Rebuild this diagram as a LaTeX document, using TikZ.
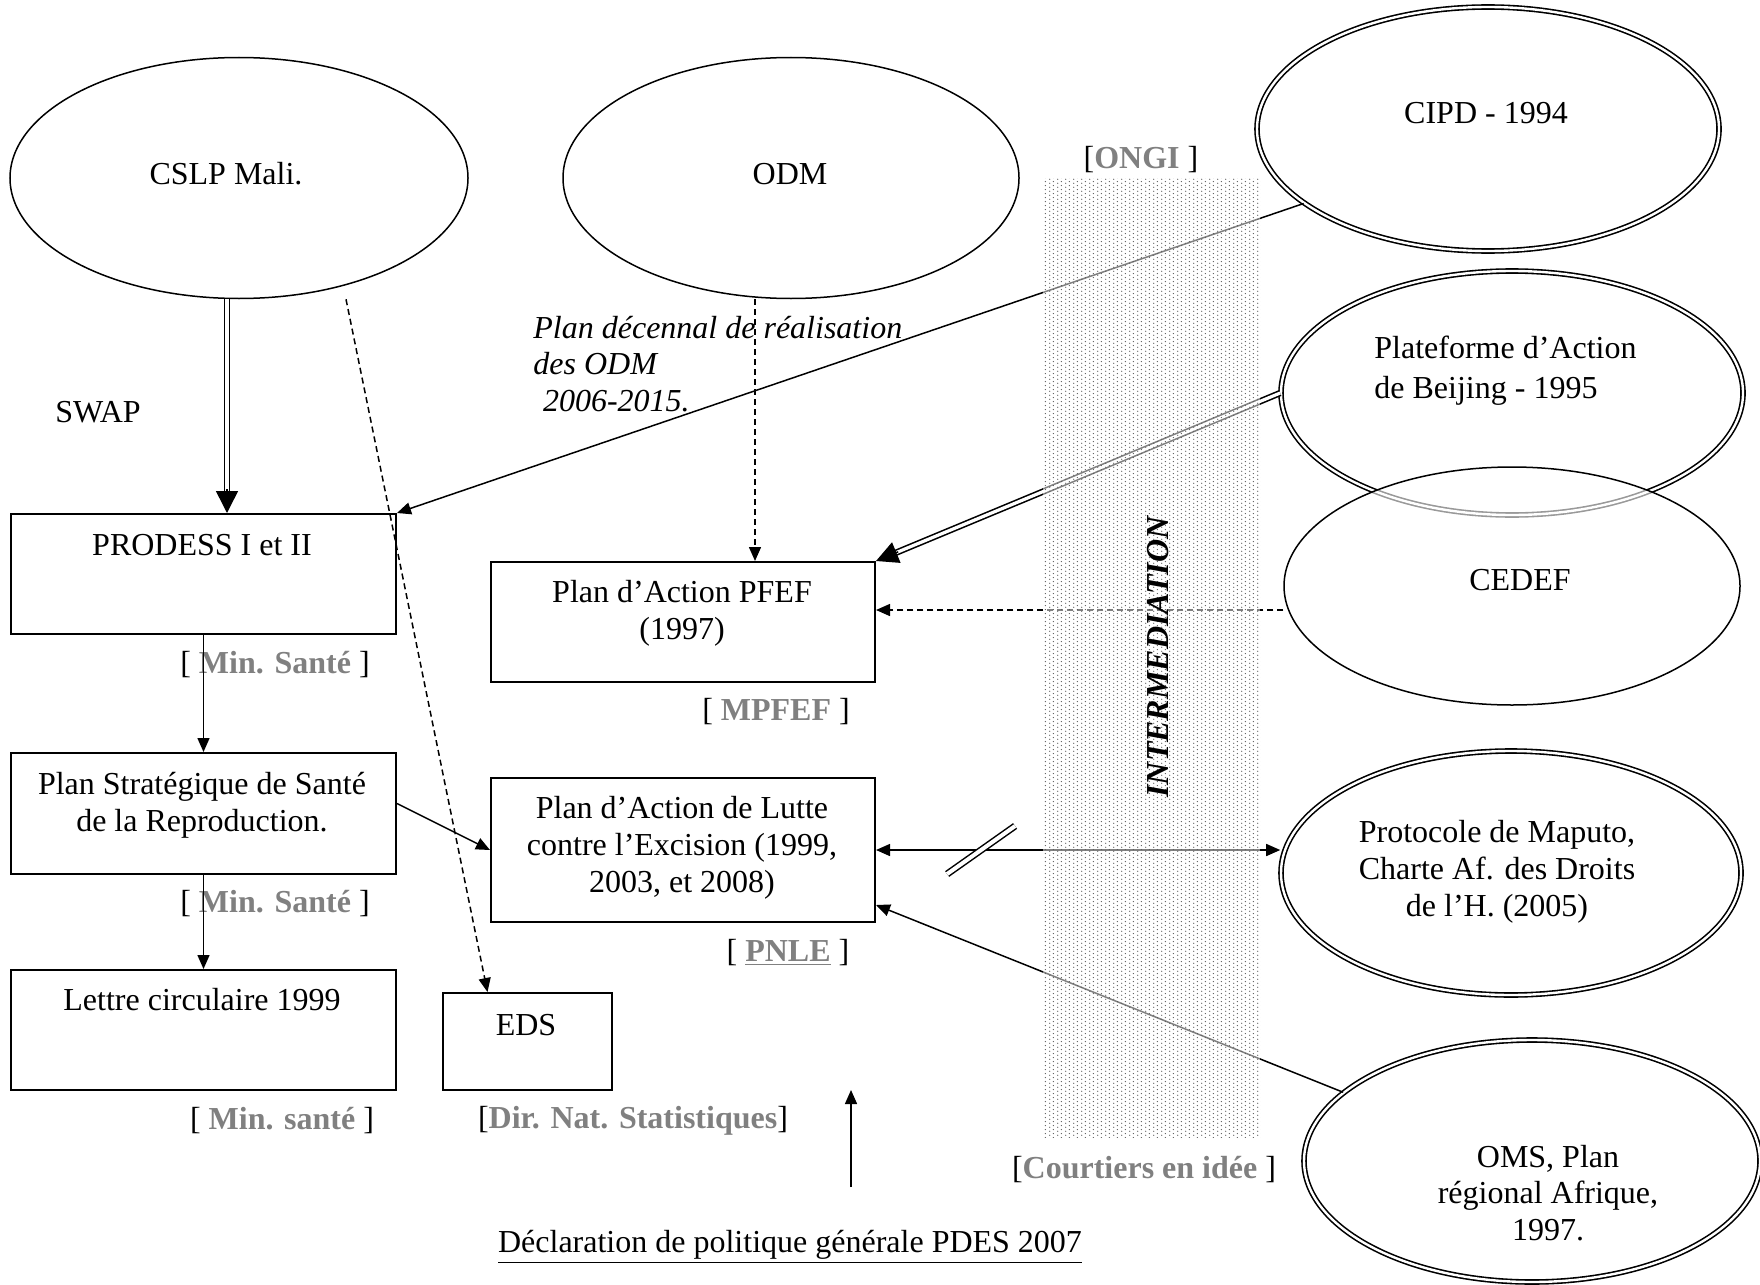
\documentclass[tikz,border=0pt]{standalone}
\usepackage{fontspec}
\setmainfont{Liberation Serif}
\usetikzlibrary{shapes.geometric,arrows.meta,patterns,calc}
\definecolor{orggray}{RGB}{128,128,128}
\newcommand{\org}[1]{\textbf{\color{orggray}#1}}
\pgfdeclarepatternformonly{fine dots}{\pgfpointorigin}{\pgfpoint{4pt}{2pt}}{\pgfpoint{4pt}{2pt}}{%
  \pgfpathcircle{\pgfpoint{1pt}{0.5pt}}{0.38pt}%
  \pgfpathcircle{\pgfpoint{3pt}{1.5pt}}{0.38pt}%
  \pgfusepath{fill}}

\begin{document}
\begin{tikzpicture}[x=0.5pt,y=-0.5pt,
  every node/.style={font=\fontsize{16}{18.4}\selectfont, inner sep=0pt},
  oval/.style={draw, ellipse, line width=0.75pt},
  dbloval/.style={draw, ellipse, double, line width=0.8pt, double distance=1.2pt},
  box/.style={draw, rectangle, line width=1pt},
  txt/.style={align=center},
  arr/.style={line width=0.75pt, -{Triangle[length=7pt,width=6pt]}},
  dasharr/.style={arr, dash pattern=on 3pt off 2pt},
  dblline/.style={double, line width=0.8pt, double distance=1.6pt},
  bigtip/.style={line width=0.75pt, -{Triangle[length=11pt,width=11pt]}}]
  \useasboundingbox (0,0) rectangle (1760,1284);

  % draw ovals
  \node[oval, minimum width=229pt, minimum height=120.5pt] (cslp) at (239,178) {};
  \node[oval, minimum width=228pt, minimum height=120.5pt] (odm) at (791,178) {};
  \node[dbloval, minimum width=231pt, minimum height=122pt] (cipd) at (1488,129) {};
  \node[dbloval, minimum width=231pt, minimum height=122pt] (beij) at (1512,393) {};
  \node[oval, fill=white, fill opacity=0.6, minimum width=228pt, minimum height=119pt] (cedef) at (1512,586) {};
  \node[dbloval, minimum width=230pt, minimum height=122pt] (maputo) at (1511,873) {};
  \node[dbloval, minimum width=228pt, minimum height=121pt] (oms) at (1532,1161) {};

  % draw boxes
  \node[box, minimum width=192.5pt, minimum height=60pt] (prodess) at (203.5,574) {};
  \node[box, minimum width=192.5pt, minimum height=60.5pt] (pssr) at (203.5,813.5) {};
  \node[box, minimum width=192.5pt, minimum height=60pt] (lettre) at (203.5,1030) {};
  \node[box, minimum width=84.5pt, minimum height=48.5pt] (eds) at (527.5,1041.5) {};
  \node[box, minimum width=192pt, minimum height=60pt] (pfef) at (683,622) {};
  \node[box, minimum width=192pt, minimum height=72pt] (pnle) at (683,850) {};

  % texts in ovals and boxes
  \node (cslpt) at (226,174) {CSLP Mali.};
  \node (odmt) at (790,174) {ODM};
  \node (cipdt) at (1486,113) {CIPD - 1994};
  \node[align=left, anchor=west, font=\fontsize{16}{20}\selectfont] (beijt) at (1374,371) {Plateforme d'Action\\de Beijing - 1995};
  \node (cedeft) at (1520,580) {CEDEF};
  \node[txt] (maputot) at (1497,872) {Protocole de Maputo,\\Charte Af. des Droits\\de l'H. (2005)};
  \node[txt] (omst) at (1548,1193) {OMS, Plan\\régional Afrique,\\1997.};
  \node (prodesst) at (202,545) {PRODESS I et II};
  \node[txt] (pssrt) at (202,805) {Plan Stratégique de Santé\\de la Reproduction.};
  \node (lettret) at (202,1000) {Lettre circulaire 1999};
  \node (edst) at (526,1025) {EDS};
  \node[txt] (pfeft) at (682,613) {Plan d'Action PFEF\\(1997)};
  \node[txt] (pnlet) at (682,848) {Plan d'Action de Lutte\\contre l'Excision (1999,\\2003, et 2008)};

  % free texts
  \node (swap) at (98,412) {SWAP};
  \node[align=left, anchor=west, font=\fontsize{16}{18.4}\selectfont\itshape] (decen) at (533,364) {Plan décennal de réalisation\\des ODM\\\hspace{0.3em}2006-2015.};
  \node (ms1) at (275,665) {[ \org{Min. Santé} ]};
  \node (ms2) at (275,904) {[ \org{Min. Santé} ]};
  \node (ms3) at (282,1121) {[ \org{Min. santé} ]};
  \node (dns) at (633,1121) {[\org{Dir. Nat. Statistiques}]};
  \node (mpfef) at (776,712) {[ \org{MPFEF} ]};
  \node (pnlel) at (788,953) {[ \org{\underline{PNLE}} ]};
  \node (ongi) at (1141,160) {[\org{ONGI} ]};
  \node (court) at (1144,1170) {[\org{Courtiers en idée} ]};
  \node (decl) at (790,1247) {\underline{Déclaration de politique générale PDES 2007}};

  % double arrow cslp to prodess
  \coordinate (swaptop) at ([shift={(-12,0)}]cslp.south);
  \coordinate (swapend) at (swaptop |- prodess.north);
  \draw[dblline, shorten >=10pt] (swaptop) -- (swapend);
  \draw[bigtip] ([shift={(0,-24)}]swapend) -- (swapend);

  % double arrow beijing to pfef
  \draw[dblline, shorten >=10pt] (beij.west) -- (pfef.north east);
  \draw[bigtip] ($(pfef.north east)!12pt!(beij.west)$) -- (pfef.north east);

  % other arrows
  \draw[arr] (cipd.202) -- (prodess.north east);
  \draw[dasharr] ([shift={(107,0)}]cslp.south) -- ([shift={(-40,0)}]eds.north);
  \coordinate (odmfoot) at ([shift={(-36,0)}]odm.south);
  \draw[dasharr] (odmfoot) -- (odmfoot |- pfef.north);
  \coordinate (pfefr) at ([shift={(0,-12)}]pfef.east);
  \draw[dasharr] (pfefr -| cedef.west) -- (pfefr);
  \draw[arr] (prodess.south) -- (pssr.north);
  \draw[arr] (pssr.south) -- (lettre.north);
  \draw[arr] ([shift={(0,-10)}]pssr.east) -- (pnle.west);
  \draw[line width=0.75pt, {Triangle[length=7pt,width=6pt]}-{Triangle[length=7pt,width=6pt]}] (pnle.east) -- coordinate[pos=0.26] (cut) (pnle.east -| maputo.west);
  \draw[line width=0.75pt, double, double distance=2pt] ([shift={(-34,24)}]cut) -- ([shift={(34,-24)}]cut);
  \draw[arr] (oms.160) -- ([shift={(0,-18)}]pnle.south east);
  \coordinate (upfoot) at (851,1187);
  \draw[arr] (upfoot) -- ++(0,-97);

  % dotted band
  \fill[white, opacity=0.5] (1043,178) rectangle (1260,1137);
  \fill[pattern=fine dots, pattern color=black!65] (1043,178) rectangle (1260,1137);
  \node[rotate=90, font=\fontsize{16}{18.4}\selectfont\bfseries\itshape] (inter) at (1158,657) {INTERMEDIATION};
\end{tikzpicture}
\end{document}
